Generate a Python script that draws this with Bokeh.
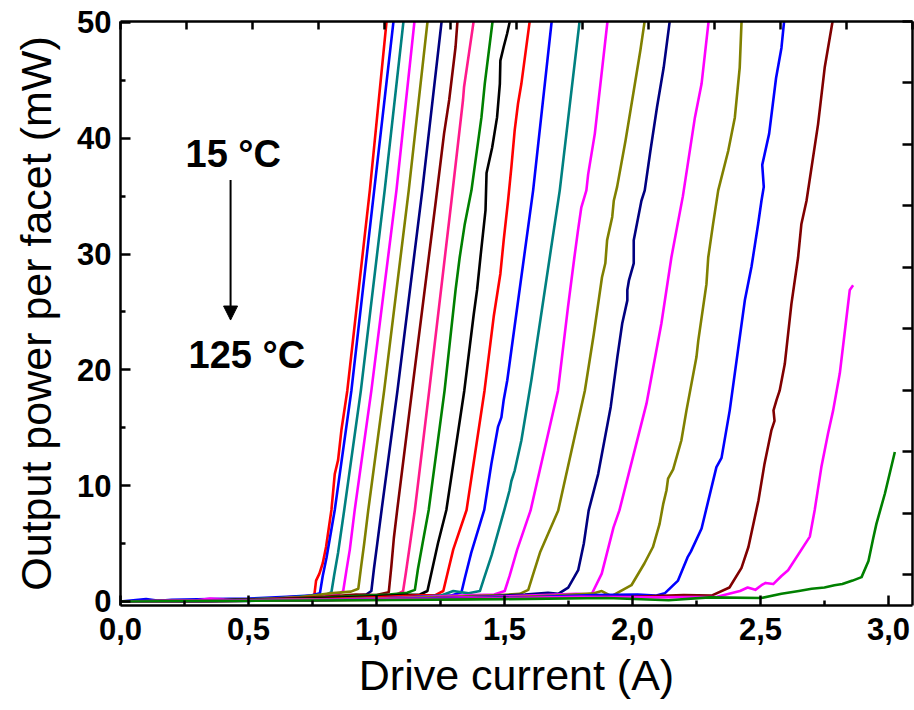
from bokeh.plotting import figure
from bokeh.models import Range1d, LinearAxis, FixedTicker, Label, Arrow, NormalHead
from bokeh.embed import file_html
from bokeh.resources import INLINE

# ---------------- data ----------------
c01_x = [0.00, 0.20, 0.40, 0.55, 0.65, 0.72, 0.757, 0.764, 0.777, 0.790, 0.803, 0.824, 0.837, 0.850, 0.863, 0.886, 0.974, 1.039, 1.045]
c01_y = [0.00, 0.05, 0.10, 0.20, 0.35, 0.45, 0.50, 1.80, 2.40, 3.30, 4.70, 7.90, 11.0, 12.2, 14.8, 18.2, 35.5, 50.0, 51.0]

c02_x = [0.00, 0.10, 0.15, 0.20, 0.35, 0.50, 0.65, 0.74, 0.779, 0.790, 0.805, 0.837, 0.902, 0.991, 1.066, 1.072]
c02_y = [0.00, 0.20, 0.05, 0.15, 0.20, 0.25, 0.40, 0.50, 0.70, 2.20, 3.80, 7.90, 18.2, 35.5, 50.0, 51.0]

c03_x = [0.00, 0.25, 0.45, 0.60, 0.72, 0.80, 0.824, 0.835, 0.850, 0.874, 0.939, 1.032, 1.105, 1.112]
c03_y = [0.00, 0.05, 0.15, 0.25, 0.45, 0.55, 0.80, 2.30, 4.20, 7.90, 18.2, 35.5, 50.0, 51.0]

c04_x = [0.00, 0.30, 0.35, 0.50, 0.65, 0.78, 0.85, 0.870, 0.882, 0.896, 0.915, 0.980, 1.078, 1.148, 1.155]
c04_y = [0.00, 0.10, 0.25, 0.05, 0.30, 0.40, 0.60, 0.90, 2.60, 4.50, 7.90, 18.2, 35.5, 50.0, 51.0]

c05_x = [0.00, 0.30, 0.55, 0.70, 0.82, 0.90, 0.929, 0.940, 0.952, 0.968, 1.030, 1.126, 1.199, 1.206]
c05_y = [0.00, 0.05, 0.20, 0.35, 0.70, 0.85, 1.10, 3.00, 5.00, 7.90, 18.2, 35.5, 50.0, 51.0]

c06_x = [0.00, 0.35, 0.60, 0.78, 0.90, 0.96, 0.980, 0.990, 1.003, 1.020, 1.082, 1.179, 1.254, 1.261]
c06_y = [0.00, 0.10, 0.20, 0.30, 0.45, 0.60, 0.90, 2.80, 5.00, 7.90, 18.2, 35.5, 50.0, 51.0]

c07_x = [0.00, 0.35, 0.60, 0.80, 0.92, 1.00, 1.048, 1.058, 1.068, 1.081, 1.139, 1.232, 1.264, 1.284, 1.309, 1.316, 1.323]
c07_y = [0.00, 0.05, 0.20, 0.40, 0.60, 0.55, 0.80, 3.00, 5.50, 7.90, 18.2, 34.6, 40.4, 43.3, 47.9, 50.0, 51.0]

c08_x = [0.00, 0.40, 0.65, 0.85, 1.00, 1.08, 1.104, 1.115, 1.130, 1.150, 1.206, 1.293, 1.338, 1.342, 1.379, 1.386]
c08_y = [0.00, 0.05, 0.15, 0.30, 0.50, 0.60, 0.90, 2.50, 4.80, 7.90, 18.2, 34.6, 43.3, 44.4, 50.0, 51.0]

c09_x = [0.00, 0.40, 0.70, 0.90, 1.05, 1.12, 1.150, 1.162, 1.180, 1.204, 1.266, 1.309, 1.325, 1.345, 1.371, 1.410, 1.423, 1.453, 1.460]
c09_y = [0.00, 0.10, 0.20, 0.45, 0.60, 0.75, 1.00, 2.80, 5.00, 7.90, 18.2, 26.9, 29.7, 32.6, 35.5, 41.8, 44.7, 50.0, 51.0]

c10_x = [0.00, 0.05, 0.40, 0.75, 0.95, 1.10, 1.17, 1.199, 1.215, 1.240, 1.273, 1.343, 1.380, 1.393, 1.406, 1.426, 1.430, 1.452, 1.471, 1.482, 1.484, 1.497, 1.510, 1.520, 1.525]
c10_y = [0.00, 0.00, 0.10, 0.25, 0.40, 0.55, 0.60, 0.90, 2.50, 5.00, 7.90, 18.2, 24.8, 26.9, 29.7, 33.8, 37.0, 39.2, 41.8, 44.7, 46.7, 47.9, 49.0, 50.0, 51.0]

c11_x = [0.00, 0.45, 0.80, 1.00, 1.15, 1.23, 1.261, 1.275, 1.300, 1.352, 1.422, 1.458, 1.484, 1.497, 1.514, 1.527, 1.540, 1.553, 1.566, 1.598, 1.604]
c11_y = [0.00, 0.05, 0.20, 0.35, 0.50, 0.55, 0.90, 2.20, 4.50, 7.90, 18.2, 24.6, 28.3, 31.2, 34.6, 37.5, 40.7, 43.0, 44.7, 50.0, 51.0]

c12_x = [0.00, 0.50, 0.85, 1.05, 1.20, 1.29, 1.332, 1.345, 1.370, 1.421, 1.449, 1.475, 1.488, 1.497, 1.511, 1.612, 1.684, 1.690]
c12_y = [0.00, 0.10, 0.15, 0.30, 0.45, 0.50, 0.80, 2.00, 4.20, 7.90, 11.9, 15.1, 15.9, 17.4, 19.1, 35.5, 50.0, 51.0]

c13_x = [0.00, 0.50, 0.90, 1.10, 1.25, 1.30, 1.36, 1.404, 1.420, 1.450, 1.499, 1.520, 1.527, 1.540, 1.566, 1.605, 1.716, 1.793, 1.800]
c13_y = [0.00, 0.05, 0.20, 0.30, 0.50, 0.90, 0.70, 0.90, 2.00, 4.00, 7.86, 9.60, 10.4, 11.3, 13.9, 19.1, 35.5, 50.0, 51.0]

c14_x = [0.00, 0.55, 0.95, 1.20, 1.38, 1.46, 1.501, 1.520, 1.550, 1.602, 1.709, 1.748, 1.773, 1.787, 1.800, 1.820, 1.827, 1.853, 1.902, 1.908]
c14_y = [0.00, 0.10, 0.20, 0.40, 0.55, 0.60, 0.90, 2.20, 4.50, 7.86, 18.2, 25.4, 29.7, 32.0, 34.0, 35.5, 36.9, 40.4, 50.0, 51.0]

c15_x = [0.00, 0.60, 1.00, 1.30, 1.48, 1.56, 1.593, 1.610, 1.640, 1.710, 1.814, 1.849, 1.868, 1.881, 1.894, 1.901, 1.921, 1.927, 1.940, 1.973, 2.005, 2.031, 2.047, 2.053]
c15_y = [0.00, 0.10, 0.25, 0.40, 0.55, 0.65, 1.00, 2.20, 4.30, 7.86, 18.2, 23.1, 26.0, 28.0, 29.2, 31.2, 33.2, 34.6, 35.8, 39.8, 44.1, 47.6, 50.0, 51.0]

c16_x = [0.00, 0.60, 1.10, 1.40, 1.58, 1.67, 1.710, 1.749, 1.788, 1.810, 1.829, 1.866, 1.915, 1.941, 1.960, 1.980, 1.980, 1.986, 2.005, 2.005, 2.035, 2.048, 2.070, 2.096, 2.122, 2.145, 2.150]
c16_y = [0.00, 0.10, 0.20, 0.40, 0.60, 0.75, 0.66, 1.20, 2.70, 5.00, 7.86, 11.0, 16.8, 21.1, 24.0, 26.0, 26.9, 27.7, 29.2, 31.2, 34.6, 35.5, 38.9, 42.7, 46.1, 50.0, 51.0]

c17_x = [0.00, 0.65, 1.15, 1.45, 1.65, 1.78, 1.840, 1.880, 1.926, 1.949, 2.008, 2.055, 2.113, 2.152, 2.197, 2.244, 2.270, 2.297, 2.303]
c17_y = [0.00, 0.15, 0.25, 0.40, 0.55, 0.65, 0.60, 2.40, 6.40, 7.86, 13.0, 17.1, 24.0, 29.7, 35.0, 41.8, 44.7, 50.0, 51.0]

c18_x = [0.00, 0.70, 1.20, 1.50, 1.70, 1.85, 1.880, 1.918, 1.996, 2.047, 2.080, 2.106, 2.120, 2.133, 2.139, 2.159, 2.191, 2.211, 2.250, 2.257, 2.289, 2.296, 2.315, 2.335, 2.374, 2.400, 2.419, 2.426, 2.432]
c18_y = [0.00, 0.15, 0.20, 0.35, 0.50, 0.70, 0.90, 0.45, 1.40, 3.30, 4.70, 6.70, 8.40, 9.60, 10.6, 11.4, 13.9, 16.5, 21.1, 22.5, 27.4, 29.7, 32.6, 35.5, 38.9, 41.8, 46.1, 50.0, 51.0]

c19_x = [0.00, 0.75, 1.25, 1.60, 1.85, 2.02, 2.09, 2.126, 2.178, 2.215, 2.228, 2.270, 2.328, 2.348, 2.380, 2.439, 2.465, 2.491, 2.504, 2.513, 2.507, 2.534, 2.561, 2.582, 2.592, 2.598]
c19_y = [0.00, 0.10, 0.25, 0.35, 0.55, 0.60, 0.50, 0.70, 1.80, 3.80, 4.30, 6.30, 11.6, 12.4, 16.5, 26.0, 28.9, 32.6, 34.6, 35.8, 37.7, 40.4, 45.2, 47.8, 50.0, 51.0]

c20_x = [0.00, 0.80, 1.30, 1.70, 2.00, 2.20, 2.309, 2.379, 2.426, 2.453, 2.492, 2.516, 2.543, 2.555, 2.551, 2.563, 2.575, 2.595, 2.621, 2.647, 2.660, 2.680, 2.725, 2.751, 2.781, 2.787]
c20_y = [0.00, 0.10, 0.20, 0.35, 0.40, 0.55, 0.50, 1.20, 2.90, 4.70, 8.70, 11.9, 14.8, 15.6, 16.5, 17.4, 18.2, 20.5, 25.7, 29.7, 32.6, 34.6, 41.2, 46.1, 50.0, 51.0]

c21_x = [0.00, 0.85, 1.40, 1.80, 2.10, 2.331, 2.420, 2.450, 2.480, 2.504, 2.520, 2.550, 2.582, 2.608, 2.693, 2.712, 2.738, 2.764, 2.784, 2.810, 2.836, 2.849, 2.862]
c21_y = [0.00, 0.15, 0.25, 0.40, 0.35, 0.40, 0.90, 1.20, 1.00, 1.40, 1.60, 1.50, 2.20, 2.70, 5.60, 7.90, 11.6, 14.5, 16.5, 19.7, 24.5, 26.9, 27.3]

c22_x = [0.00, 0.90, 1.50, 1.90, 2.141, 2.300, 2.504, 2.582, 2.650, 2.700, 2.750, 2.789, 2.820, 2.860, 2.895, 2.922, 2.941, 2.953, 2.986, 3.025]
c22_y = [0.00, 0.10, 0.20, 0.30, 0.10, 0.35, 0.30, 0.66, 0.90, 1.10, 1.20, 1.40, 1.50, 1.80, 2.10, 3.50, 5.50, 6.70, 9.30, 12.9]

colors = ["#FF0000", "#0000FF", "#008080", "#FF00FF", "#808000", "#000080", "#800000", "#FF1A8C",
          "#008000", "#000000", "#FF0000", "#0000FF", "#008080", "#FF00FF", "#808000", "#000080",
          "#FF00FF", "#808000", "#0000FF", "#800000", "#FF00FF", "#008000"]

x_major = [0.0, 0.5, 1.0, 1.5, 2.0, 2.5, 3.0]
x_minor = [0.25, 0.75, 1.25, 1.75, 2.25, 2.75]
x_labels = ["0,0", "0,5", "1,0", "1,5", "2,0", "2,5", "3,0"]
y_major = [0, 10, 20, 30, 40, 50]
y_minor = [5, 15, 25, 35, 45]

curves = [(c01_x, c01_y), (c02_x, c02_y), (c03_x, c03_y), (c04_x, c04_y), (c05_x, c05_y),
          (c06_x, c06_y), (c07_x, c07_y), (c08_x, c08_y), (c09_x, c09_y), (c10_x, c10_y),
          (c11_x, c11_y), (c12_x, c12_y), (c13_x, c13_y), (c14_x, c14_y), (c15_x, c15_y),
          (c16_x, c16_y), (c17_x, c17_y), (c18_x, c18_y), (c19_x, c19_y), (c20_x, c20_y),
          (c21_x, c21_y), (c22_x, c22_y)]

# ---------------- figure ----------------
FONT = "Liberation Sans"
p = figure(width=914, height=710, output_backend="svg", toolbar_location=None,
           x_range=Range1d(0, 3.094), y_range=Range1d(-0.35, 50.08),
           x_axis_location=None, y_axis_location=None,
           min_border_left=120, min_border_right=2, min_border_top=21, min_border_bottom=105)
p.outline_line_color = None
p.background_fill_color = "white"
p.border_fill_color = "white"
p.xgrid.visible = False
p.ygrid.visible = False
p.grid.grid_line_color = None

for (xs, ys), col in zip(curves, colors):
    p.line(xs, ys, line_color=col, line_width=2.6, line_join="round")

p.extra_x_ranges = {"top": Range1d(0, 3.0)}
p.extra_y_ranges = {"right": Range1d(2.52, 50.0)}


def style(ax):
    ax.axis_line_width = 2.5
    ax.axis_line_color = "black"
    ax.major_tick_line_width = 2.5
    ax.minor_tick_line_width = 2.5
    ax.major_tick_in = 10
    ax.major_tick_out = 0
    ax.minor_tick_in = 5
    ax.minor_tick_out = 0
    ax.major_label_text_font = FONT
    ax.major_label_text_font_style = "bold"
    ax.major_label_text_font_size = "31px"
    ax.major_label_text_color = "black"
    ax.axis_label_text_font = FONT
    ax.axis_label_text_font_style = "normal"
    ax.axis_label_text_font_size = "43px"
    ax.axis_label_text_color = "black"


xb = LinearAxis(ticker=FixedTicker(ticks=x_major, minor_ticks=x_minor),
                axis_label="Drive current (A)")
style(xb)
xb.major_label_overrides = {t: s for t, s in zip(x_major, x_labels)}
xb.major_label_standoff = 12
xb.axis_label_standoff = 8
p.add_layout(xb, "below")

yl = LinearAxis(ticker=FixedTicker(ticks=y_major, minor_ticks=y_minor),
                axis_label="Output power per facet (mW)")
style(yl)
yl.major_label_standoff = 9
yl.axis_label_standoff = 14
p.add_layout(yl, "left")

# mirror axes on top and right: tick marks only (no major ticks -> no labels)
xt = LinearAxis(x_range_name="top", ticker=FixedTicker(ticks=[], minor_ticks=x_major + x_minor))
style(xt)
xt.minor_tick_in = 8
xt.major_label_standoff = 0
p.add_layout(xt, "above")

yr = LinearAxis(y_range_name="right", ticker=FixedTicker(ticks=[], minor_ticks=y_major + y_minor))
style(yr)
yr.minor_tick_in = 10
yr.major_label_standoff = 0
p.add_layout(yr, "right")

p.add_layout(Label(x=0.254, y=38.6, text="15 °C", text_font=FONT, text_font_style="bold",
                   text_font_size="38px", text_color="black", text_baseline="alphabetic"))
p.add_layout(Label(x=0.266, y=21.3, text="125 °C", text_font=FONT, text_font_style="bold",
                   text_font_size="38px", text_color="black", text_baseline="alphabetic"))
p.add_layout(Arrow(end=NormalHead(size=14, fill_color="black", line_color="black"),
                   x_start=0.43, y_start=36.4, x_end=0.43, y_end=24.3,
                   line_width=2, line_color="black"))

open("out.html", "w").write(file_html(p, INLINE))
